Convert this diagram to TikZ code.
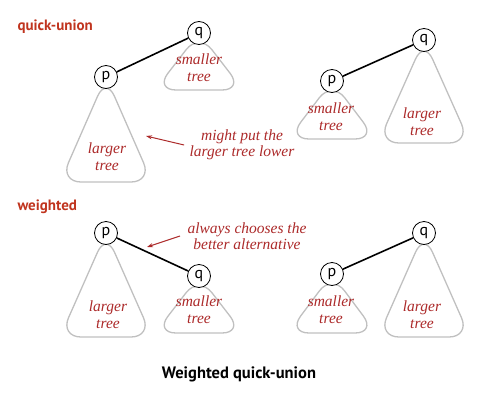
\documentclass[tikz,border=0pt]{standalone}
\usepackage{fontspec}
\setmainfont{Liberation Serif}
\setsansfont{PT Sans}
\usetikzlibrary{arrows.meta,backgrounds}
\definecolor{bookred}{RGB}{172,42,42}
\definecolor{tagred}{RGB}{192,52,30}
\definecolor{outline}{RGB}{192,192,192}

\begin{document}
\begin{tikzpicture}[x=1pt, y=-1pt]
      \tikzset{
        site/.style={circle,draw,fill=white,inner sep=0pt,minimum size=23pt,line width=0.8pt,
                     font=\sffamily\fontsize{16}{16}\selectfont},
        tree outline/.style={draw=outline,line width=1.3pt,rounded corners=21pt},
        tree label/.style={bookred,align=center,font=\itshape\fontsize{15.5}{17}\selectfont},
        note/.style={bookred,align=center,font=\itshape\fontsize{15.5}{16}\selectfont},
        tag/.style={tagred,anchor=west,font=\sffamily\bfseries\fontsize{15}{15}\selectfont},
        link/.style={line width=1.6pt},
        pointer/.style={bookred,line width=1pt,-{Stealth[length=6pt,width=4pt]}}
      }
      \useasboundingbox (0,0) rectangle (479,407);

      % Section tags
      \node[tag] (tagqu) at (14,27) {quick-union};
      \node[tag] (tagwt) at (14,207) {weighted};

      % --- quick-union: p under q, q under p ---
      \node[site] (p1) at (106,77) {p};
      \node[site] (q1) at (199,33) {q};
      \node[site] (p2) at (332,81) {p};
      \node[site] (q2) at (424,40) {q};

      % --- weighted: smaller tree goes under the larger ---
      \node[site] (p3) at (106,233) {p};
      \node[site] (q3) at (199,276) {q};
      \node[site] (p4) at (332,274) {p};
      \node[site] (q4) at (424,233) {q};

      % Tree outlines behind the roots
      \begin{scope}[on background layer]
        \draw[tree outline] (p1.center) -- ++(-46,105) -- ++(92,0) -- cycle;
        \draw[tree outline] (q1.center) -- ++(-44,57) -- ++(88,0) -- cycle;
        \draw[tree outline] (p2.center) -- ++(-44,58) -- ++(88,0) -- cycle;
        \draw[tree outline] (q2.center) -- ++(-46,103) -- ++(92,0) -- cycle;
        \draw[tree outline] (p3.center) -- ++(-46,104) -- ++(92,0) -- cycle;
        \draw[tree outline] (q3.center) -- ++(-44,57) -- ++(88,0) -- cycle;
        \draw[tree outline] (p4.center) -- ++(-44,59) -- ++(88,0) -- cycle;
        \draw[tree outline] (q4.center) -- ++(-46,104) -- ++(92,0) -- cycle;
      \end{scope}

      % Tree labels
      \node[tree label] (lg1) at (107,157) {larger\\tree};
      \node[tree label] (sm1) at (199,68) {smaller\\tree};
      \node[tree label] (sm2) at (331,117) {smaller\\tree};
      \node[tree label] (lg2) at (422,122) {larger\\tree};
      \node[tree label] (lg3) at (108,315) {larger\\tree};
      \node[tree label] (sm3) at (199,310) {smaller\\tree};
      \node[tree label] (sm4) at (331,310) {smaller\\tree};
      \node[tree label] (lg4) at (422,315) {larger\\tree};

      % Links made by the union
      \draw[link] (p1) -- (q1);
      \draw[link] (p2) -- (q2);
      \draw[link] (p3) -- (q3);
      \draw[link] (p4) -- (q4);

      % Notes with arrows
      \node[note] (note1) at (242,145) {might put the\\larger tree lower};
      \coordinate (tip1) at (146,136);
      \draw[pointer] ([xshift=-2pt]note1.west) -- (tip1);

      \node[note] (note2) at (247,236) {always chooses the\\better alternative};
      \coordinate (tip2) at (147,247);
      \draw[pointer] ([xshift=-4pt]note2.west) -- (tip2);

      % Caption
      \node[font=\sffamily\bfseries\fontsize{16.5}{16.5}\selectfont] (caption) at (239,374) {Weighted quick-union};

    \end{tikzpicture}
\end{document}
